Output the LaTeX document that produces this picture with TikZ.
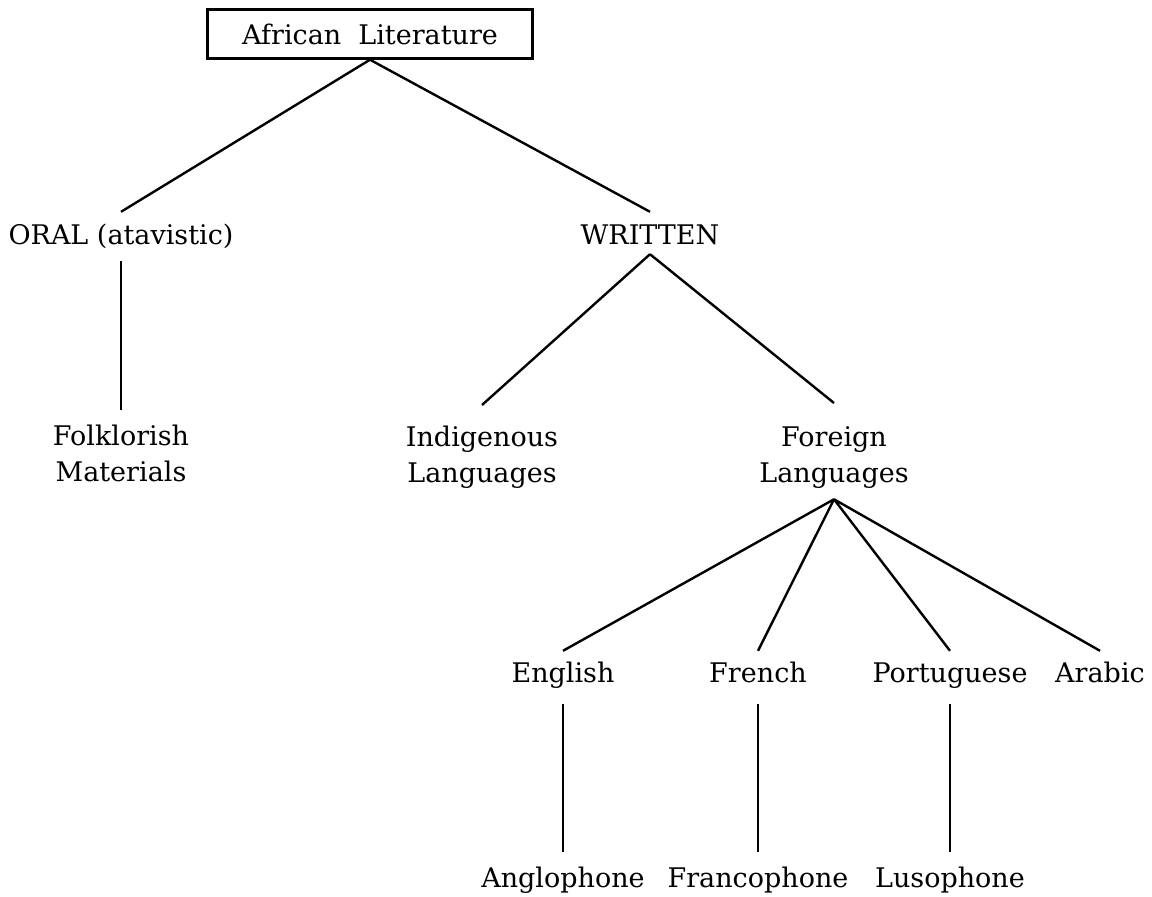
\documentclass[tikz,border=0pt]{standalone}
\usepackage{fontspec}
\setmainfont{DejaVu Serif}

\begin{document}
\begin{tikzpicture}[x=0.5pt,y=-0.5pt,line width=1.2pt,
                    every node/.style={font=\fontsize{13.5}{18}\selectfont,inner sep=0pt},
                    main node/.style={draw,minimum width=162.5pt,minimum height=24.5pt},
                    word node/.style={anchor=base,text height=10pt,text depth=3pt},
                    pair node/.style={anchor=north,align=center}]
      \useasboundingbox (0,0) rectangle (1152,896);

      \node[main node] (1) at (370,34) {African\ \ Literature};
      \node[word node] (2) at (121,244) {ORAL (atavistic)};
      \node[word node] (3) at (650,244) {WRITTEN};
      \node[pair node] (4) at (121,424) {Folklorish\\Materials};
      \node[pair node] (5) at (482,425) {Indigenous\\Languages};
      \node[pair node] (6) at (834,425) {Foreign\\Languages};
      \node[word node] (7) at (563,682) {English};
      \node[word node] (8) at (758,682) {French};
      \node[word node] (9) at (950,682) {Portuguese};
      \node[word node] (10) at (1100,682) {Arabic};
      \node[word node] (11) at (563,887) {Anglophone};
      \node[word node] (12) at (758,887) {Francophone};
      \node[word node] (13) at (950,887) {Lusophone};

      \path
	(1.south) edge ([yshift=5.5pt]2.north)
	    edge ([yshift=5.5pt]3.north)
	([yshift=-5pt]2.south) edge ([yshift=7pt]4.north)
	([yshift=-1.5pt]3.south) edge ([yshift=10pt]5.north)
	    edge ([yshift=11pt]6.north)
	([yshift=-5pt]6.south) edge ([yshift=5pt]7.north)
	    edge ([yshift=5pt]8.north)
	    edge ([yshift=5pt]9.north)
	    edge ([yshift=5pt]10.north)
	([yshift=-7.5pt]7.south) edge ([yshift=7pt]11.north)
	([yshift=-7.5pt]8.south) edge ([yshift=7pt]12.north)
	([yshift=-7.5pt]9.south) edge ([yshift=7pt]13.north);

    \end{tikzpicture}
\end{document}
